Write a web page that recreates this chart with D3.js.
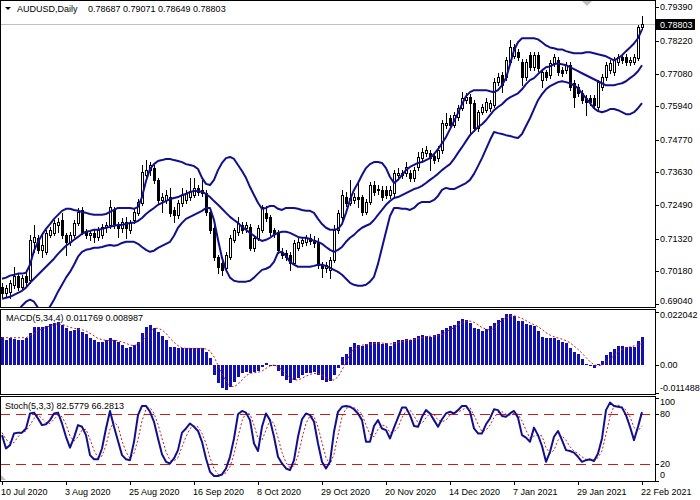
<!DOCTYPE html>
<html><head><meta charset="utf-8">
<script src="https://cdn.jsdelivr.net/npm/d3@7"></script>
<style>
html,body{margin:0;padding:0;background:#fff;}
svg{display:block;font-family:"Liberation Sans",Arial,sans-serif;}
</style></head><body>
<svg id="c" width="700" height="500"></svg>
<script>
const symbolTitle = "AUDUSD,Daily";
const titleValues = "0.78687 0.79071 0.78649 0.78803";
const macdTitle = "MACD(5,34,4) 0.011769 0.008987";
const stochTitle = "Stoch(5,3,3) 82.5779 66.2813";
const dateLabels = ["10 Jul 2020","3 Aug 2020","25 Aug 2020","16 Sep 2020","8 Oct 2020","29 Oct 2020","20 Nov 2020","14 Dec 2020","7 Jan 2021","29 Jan 2021","22 Feb 2021"];
const dateTickIndex = [0,16,32,48,64,80,96,112,128,144,160];
const priceTicks = [0.79390,0.78220,0.77080,0.75940,0.74770,0.73630,0.72490,0.71320,0.70180,0.69040];
const macdTicks = [0.022042,0,-0.011488];
const macdTickLabels = ["0.022042","0.00","-0.011488"];
const stochTicks = [100,80,20,0];
const stochLevels = [80,20];

const open = [.6964,.6943,.6947,.6971,.7003,.6964,.7003,.6989,.7121,.7135,
.7093,.7086,.7145,.7152,.7180,.7197,.7145,.7121,.7145,.7187,
.7232,.7156,.7145,.7152,.7138,.7145,.7173,.7180,.7232,.7180,
.7170,.7190,.7163,.7197,.7222,.7257,.7354,.7371,.7378,.7337,
.7267,.7267,.7277,.7232,.7215,.7257,.7267,.7277,.7284,.7309,
.7291,.7291,.7225,.7170,.7069,.7048,.7030,.7069,.7128,.7156,
.7180,.7170,.7173,.7100,.7135,.7163,.7222,.7208,.7163,.7156,
.7086,.7083,.7076,.7048,.7100,.7117,.7121,.7135,.7128,.7121,
.7041,.7030,.7023,.7058,.7163,.7208,.7277,.7257,.7267,.7277,
.7277,.7225,.7260,.7319,.7305,.7302,.7302,.7284,.7291,.7354,
.7354,.7361,.7361,.7344,.7382,.7413,.7431,.7431,.7420,.7413,
.7441,.7528,.7552,.7528,.7556,.7587,.7615,.7625,.7605,.7518,
.7573,.7580,.7587,.7598,.7678,.7702,.7695,.7747,.7768,.7782,
.7747,.7695,.7772,.7730,.7772,.7685,.7712,.7702,.7744,.7754,
.7719,.7719,.7737,.7674,.7660,.7639,.7622,.7622,.7622,.7591,
.7660,.7695,.7719,.7712,.7747,.7765,.7765,.7747,.7747,.7761,
.78687];
const high = [.6978,.6971,.6989,.7034,.7013,.7006,.7013,.7145,.7180,.7145,
.7152,.7163,.7173,.7197,.7204,.7222,.7152,.7156,.7197,.7239,
.7243,.7166,.7163,.7163,.7173,.7183,.7190,.7267,.7243,.7190,
.7204,.7208,.7197,.7236,.7270,.7389,.7406,.7399,.7389,.7344,
.7291,.7302,.7309,.7243,.7267,.7309,.7302,.7344,.7344,.7319,
.7337,.7302,.7232,.7177,.7076,.7058,.7086,.7145,.7170,.7208,
.7190,.7190,.7183,.7142,.7180,.7250,.7246,.7215,.7170,.7163,
.7100,.7093,.7086,.7128,.7135,.7138,.7145,.7149,.7142,.7135,
.7051,.7051,.7069,.7180,.7232,.7302,.7295,.7337,.7291,.7326,
.7284,.7270,.7330,.7333,.7319,.7316,.7316,.7316,.7371,.7378,
.7371,.7399,.7371,.7382,.7434,.7448,.7455,.7441,.7431,.7455,
.7545,.7570,.7563,.7573,.7598,.7643,.7639,.7636,.7615,.7580,
.7601,.7622,.7615,.7692,.7709,.7712,.7765,.7824,.7810,.7792,
.7758,.7758,.7782,.7782,.7782,.7719,.7719,.7754,.7775,.7765,
.7730,.7747,.7747,.7685,.7671,.7650,.7632,.7632,.7632,.7685,
.7706,.7747,.7754,.7765,.7775,.7775,.7775,.7765,.7775,.7876,
.79071];
const low = [.6929,.6933,.6926,.6961,.6954,.6954,.6971,.6978,.7086,.7083,
.7069,.7079,.7138,.7145,.7156,.7135,.7076,.7110,.7138,.7180,
.7149,.7135,.7128,.7121,.7128,.7135,.7156,.7170,.7170,.7138,
.7156,.7135,.7152,.7187,.7215,.7250,.7344,.7354,.7326,.7257,
.7225,.7257,.7211,.7190,.7204,.7246,.7257,.7267,.7277,.7284,
.7281,.7215,.7152,.7058,.7013,.7006,.7020,.7062,.7121,.7145,
.7152,.7156,.7093,.7090,.7128,.7156,.7194,.7145,.7138,.7083,
.7065,.7058,.7023,.7041,.7093,.7107,.7110,.7114,.7103,.7030,
.6999,.7016,.6996,.7051,.7152,.7197,.7246,.7250,.7257,.7243,
.7215,.7218,.7253,.7284,.7288,.7267,.7274,.7274,.7281,.7344,
.7344,.7351,.7333,.7333,.7371,.7403,.7420,.7371,.7396,.7403,
.7431,.7518,.7518,.7521,.7545,.7580,.7605,.7493,.7507,.7507,
.7566,.7573,.7577,.7591,.7667,.7643,.7685,.7740,.7761,.7754,
.7667,.7685,.7719,.7719,.7716,.7660,.7685,.7692,.7733,.7702,
.7699,.7709,.7650,.7591,.7629,.7605,.7563,.7598,.7587,.7580,
.7650,.7685,.7709,.7702,.7737,.7744,.7737,.7737,.7740,.7754,
.78649];
const close = [.6943,.6961,.6978,.7003,.6964,.6996,.6982,.7128,.7138,.7093,
.7110,.7152,.7163,.7187,.7190,.7145,.7121,.7145,.7187,.7225,
.7156,.7145,.7152,.7138,.7163,.7173,.7180,.7243,.7180,.7170,
.7190,.7170,.7187,.7225,.7260,.7364,.7371,.7389,.7337,.7267,
.7277,.7284,.7222,.7215,.7257,.7284,.7291,.7295,.7309,.7295,
.7302,.7225,.7163,.7069,.7034,.7023,.7076,.7135,.7163,.7187,
.7163,.7180,.7100,.7135,.7170,.7243,.7204,.7156,.7152,.7093,
.7076,.7069,.7048,.7117,.7121,.7128,.7135,.7124,.7117,.7041,
.7030,.7041,.7058,.7163,.7222,.7284,.7257,.7274,.7277,.7270,
.7225,.7260,.7319,.7295,.7302,.7277,.7284,.7302,.7361,.7361,
.7361,.7382,.7344,.7371,.7417,.7434,.7441,.7413,.7406,.7441,
.7535,.7535,.7528,.7563,.7587,.7622,.7625,.7605,.7518,.7573,
.7591,.7608,.7605,.7678,.7695,.7667,.7754,.7799,.7799,.7765,
.7695,.7747,.7730,.7772,.7726,.7712,.7695,.7744,.7765,.7712,
.7709,.7737,.7660,.7625,.7639,.7615,.7608,.7608,.7598,.7678,
.7695,.7737,.7744,.7754,.7765,.7754,.7747,.7754,.7765,.7869,
.78803];

const bbUpper = [.6992,.6996,.7003,.7006,.7010,.7010,.7013,.7041,.7090,.7121,
.7145,.7166,.7183,.7201,.7215,.7229,.7236,.7236,.7232,.7229,
.7225,.7222,.7218,.7215,.7215,.7215,.7218,.7225,.7232,.7239,
.7239,.7239,.7239,.7236,.7243,.7277,.7333,.7375,.7392,.7403,
.7406,.7410,.7410,.7406,.7403,.7399,.7392,.7389,.7385,.7375,
.7344,.7323,.7319,.7337,.7371,.7396,.7413,.7417,.7410,.7389,
.7368,.7344,.7312,.7284,.7257,.7236,.7239,.7246,.7246,.7236,
.7232,.7239,.7239,.7239,.7236,.7232,.7229,.7229,.7222,.7201,
.7183,.7170,.7163,.7163,.7166,.7183,.7222,.7267,.7302,.7326,
.7354,.7378,.7392,.7399,.7399,.7396,.7378,.7347,.7326,.7337,
.7354,.7371,.7382,.7389,.7396,.7399,.7406,.7413,.7427,.7444,
.7465,.7486,.7514,.7542,.7570,.7601,.7629,.7643,.7650,.7650,
.7650,.7650,.7646,.7643,.7650,.7667,.7692,.7740,.7789,.7817,
.7831,.7831,.7831,.7831,.7827,.7817,.7806,.7799,.7796,.7792,
.7792,.7786,.7782,.7779,.7779,.7779,.7782,.7782,.7779,.7775,
.7772,.7768,.7761,.7754,.7761,.7772,.7786,.7799,.7813,.7831,
.7862];
const bbMiddle = [.6922,.6926,.6929,.6936,.6943,.6950,.6961,.6978,.6992,.7006,
.7020,.7034,.7048,.7062,.7079,.7093,.7107,.7117,.7128,.7138,
.7149,.7156,.7159,.7163,.7163,.7166,.7170,.7173,.7177,.7180,
.7180,.7183,.7187,.7187,.7194,.7204,.7218,.7229,.7239,.7250,
.7257,.7263,.7270,.7274,.7277,.7284,.7288,.7295,.7298,.7298,
.7295,.7288,.7277,.7263,.7250,.7236,.7222,.7208,.7197,.7187,
.7173,.7163,.7152,.7142,.7131,.7124,.7128,.7135,.7145,.7152,
.7156,.7156,.7152,.7145,.7138,.7135,.7135,.7131,.7124,.7121,
.7114,.7103,.7093,.7086,.7093,.7103,.7121,.7135,.7145,.7159,
.7170,.7177,.7183,.7197,.7215,.7232,.7250,.7263,.7274,.7277,
.7284,.7291,.7298,.7305,.7309,.7316,.7326,.7337,.7347,.7358,
.7371,.7382,.7392,.7410,.7431,.7451,.7472,.7493,.7507,.7521,
.7531,.7545,.7563,.7580,.7591,.7601,.7615,.7625,.7632,.7639,
.7653,.7671,.7685,.7692,.7706,.7719,.7730,.7733,.7740,.7744,
.7740,.7737,.7730,.7723,.7716,.7709,.7702,.7695,.7688,.7681,
.7674,.7667,.7667,.7667,.7671,.7674,.7681,.7692,.7702,.7716,
.7737];
const bbLower = [.6815,.6828,.6846,.6863,.6881,.6898,.6912,.6919,.6912,.6891,
.6870,.6877,.6895,.6919,.6947,.6971,.6996,.7016,.7041,.7069,
.7086,.7093,.7096,.7100,.7100,.7103,.7107,.7110,.7107,.7110,
.7117,.7121,.7121,.7121,.7114,.7103,.7093,.7086,.7090,.7100,
.7107,.7114,.7121,.7142,.7170,.7187,.7201,.7208,.7215,.7222,
.7229,.7239,.7239,.7197,.7128,.7065,.7023,.6996,.6985,.6982,
.6982,.6982,.6985,.6996,.7010,.7023,.7027,.7034,.7051,.7083,
.7086,.7072,.7051,.7041,.7034,.7034,.7034,.7034,.7037,.7041,
.7041,.7037,.7030,.7023,.7016,.7006,.6992,.6978,.6971,.6968,
.6968,.6971,.6982,.6999,.7044,.7100,.7156,.7211,.7239,.7239,
.7236,.7236,.7232,.7239,.7253,.7260,.7260,.7260,.7267,.7281,
.7302,.7309,.7305,.7305,.7312,.7319,.7326,.7337,.7358,.7385,
.7413,.7444,.7476,.7504,.7500,.7497,.7493,.7490,.7486,.7483,
.7497,.7525,.7552,.7584,.7615,.7636,.7653,.7664,.7671,.7678,
.7681,.7678,.7674,.7667,.7657,.7639,.7622,.7605,.7587,.7577,
.7573,.7577,.7584,.7584,.7580,.7573,.7566,.7566,.7573,.7587,
.7605];

const macdMain = [.01155,.01043,.01114,.01085,.01043,.01056,.01139,.01321,.01594,.01569,
.01569,.01635,.01693,.01735,.01776,.01664,.01528,.01416,.01457,.01528,
.01387,.01279,.01139,.01043,.00973,.00973,.01043,.01114,.01043,.00973,
.00836,.00725,.00766,.00836,.00973,.01321,.01594,.01664,.01528,.01387,
.01221,.01043,.00766,.00766,.00700,.00700,.00700,.00700,.00700,.00725,
.00700,.00559,.00286,-.00406,-.00749,-.00956,-.01027,-.00890,-.00683,-.00476,
-.00335,-.00269,-.00335,-.00269,-.00240,-.00062,.00079,.00008,-.00033,-.00240,
-.00435,-.00613,-.00725,-.00613,-.00542,-.00406,-.00335,-.00335,-.00269,-.00406,
-.00613,-.00683,-.00654,-.00406,-.00104,.00352,.00451,.00766,.00907,.00836,
.00807,.00865,.00948,.00948,.00948,.00865,.00907,.00807,.00948,.01043,
.01043,.01085,.01043,.01114,.01221,.01250,.01209,.01180,.01250,.01279,
.01457,.01553,.01635,.01664,.01830,.01913,.01871,.01735,.01553,.01499,
.01416,.01499,.01635,.01735,.01871,.01942,.02107,.02107,.02049,.01830,
.01830,.01693,.01664,.01635,.01416,.01180,.01114,.01114,.01139,.01043,
.00973,.00907,.00700,.00559,.00451,.00257,.00062,-.00033,-.00128,.00037,
.00174,.00422,.00559,.00671,.00807,.00807,.00766,.00766,.00766,.01002,
.011769];
const macdSignal = [.0114,.0114,.0114,.0114,.0114,.0114,.0114,.0122,.0132,.0142,
.0150,.0157,.0162,.0169,.0171,.0169,.0164,.0157,.0153,.0150,
.0147,.0142,.0132,.0122,.0111,.0106,.0103,.0103,.0103,.0101,
.0097,.0091,.0084,.0081,.0087,.0100,.0118,.0139,.0153,.0153,
.0146,.0132,.0111,.0095,.0081,.0072,.0070,.0070,.0070,.0070,
.0070,.0067,.0059,.0035,.0001,-.0034,-.0065,-.0085,-.0089,-.0079,
-.0061,-.0043,-.0034,-.0031,-.0029,-.0024,-.0013,-.0003,.0001,-.0006,
-.0020,-.0036,-.0052,-.0060,-.0061,-.0054,-.0045,-.0038,-.0034,-.0034,
-.0041,-.0052,-.0061,-.0061,-.0048,-.0020,.0012,.0045,.0068,.0078,
.0083,.0085,.0086,.0090,.0092,.0092,.0090,.0088,.0090,.0094,
.0098,.0102,.0104,.0106,.0110,.0114,.0118,.0120,.0121,.0122,
.0128,.0138,.0148,.0155,.0165,.0175,.0182,.0183,.0178,.0167,
.0156,.0150,.0145,.0152,.0168,.0188,.0195,.0203,.0205,.0200,
.0194,.0185,.0175,.0168,.0160,.0148,.0135,.0125,.0118,.0113,
.0108,.0102,.0093,.0080,.0066,.0050,.0032,.0015,.0002,-.0002,
.0000,.0012,.0025,.0040,.0055,.0066,.0072,.0076,.0080,.0085,
.008987];

const stochMain = [55,39,43,57,58,58,63,81,82,75,
67,68,73,81,82,69,53,40,52,67,
65,55,31,26,26,39,63,84,65,48,
31,26,25,47,79,90,90,83,71,51,
32,23,21,27,37,58,63,69,65,60,
47,27,11,6,6,8,15,29,51,80,
84,82,73,45,36,65,81,73,53,29,
21,15,13,25,53,74,81,79,71,45,
23,15,23,59,83,89,90,89,86,81,
73,47,47,66,73,63,61,51,64,76,
88,88,79,66,65,77,85,81,73,65,
74,81,83,81,85,90,90,83,63,57,
57,68,75,86,85,78,77,81,84,76,
55,52,47,64,55,42,23,35,53,60,
49,37,36,34,29,23,25,26,24,33,
51,85,94,90,89,88,79,65,49,65,
82.5779];
const stochSignal = [58,50,46,46,53,58,60,67,75,79,
75,70,69,74,79,77,68,54,48,53,
61,62,50,37,28,30,43,62,71,66,
48,35,27,33,50,72,86,88,81,68,
51,35,25,24,28,41,53,63,66,65,
57,45,28,15,8,7,10,17,32,53,
72,82,80,67,51,49,61,73,69,52,
34,22,16,18,30,51,69,78,77,65,
46,28,20,32,55,77,87,89,88,85,
80,67,56,53,62,67,66,58,59,64,
76,84,85,78,70,69,76,81,80,73,
71,73,79,82,83,85,88,88,79,68,
59,61,67,76,82,83,80,79,81,80,
72,61,51,54,55,54,40,33,37,49,
54,49,41,36,33,29,26,25,25,28,
36,56,77,90,91,89,85,77,64,60,
66.2813];

// ---------- drawing ----------
const bandColor = "#10108c", histColor = "#1010b4", redColor = "#c41e1e";
const svg = d3.select("#c");
const n = close.length;
const idx = d3.range(n);
const x = d3.scaleLinear().domain([0, n - 1]).range([2, 642]);
const yMain = d3.scaleLinear().domain([0.69040, 0.79390]).range([304, 7.3]);
const yMacd = d3.scaleLinear().domain([-0.011488, 0.022042]).range([393, 312]);
const yStoch = d3.scaleLinear().domain([0, 100]).range([481, 397.6]);
const AX = 655;

const panels = {main:[0,307], macd:[309,394], stoch:[396,481]};
const defs = svg.append("defs");
Object.entries(panels).forEach(([k,[a,b]]) => {
  defs.append("clipPath").attr("id","clip-"+k).append("rect")
    .attr("x",1).attr("y",a+1).attr("width",AX-1).attr("height",b-a-1);
});

svg.append("rect").attr("width",700).attr("height",500).attr("fill","#fff");

// ---- main panel ----
const gm = svg.append("g").attr("clip-path","url(#clip-main)");
const Y = v => Math.round(yMain(v));
gm.append("line").attr("x1",0).attr("x2",AX).attr("y1",Y(close[n-1])+0.5).attr("y2",Y(close[n-1])+0.5)
  .attr("stroke","#c0c0c0").attr("stroke-width",1);

idx.forEach(i => {
  const cx = Math.round(x(i));
  gm.append("line").attr("x1",cx+0.5).attr("x2",cx+0.5).attr("y1",Y(high[i])).attr("y2",Y(low[i])+1)
    .attr("stroke","#000").attr("stroke-width",1).attr("shape-rendering","crispEdges");
  if (close[i] >= open[i]) {
    const t = Y(close[i]), b = Y(open[i]);
    gm.append("rect").attr("x",cx-0.5).attr("y",t+0.5).attr("width",2).attr("height",Math.max(b-t,0))
      .attr("fill","#fff").attr("stroke","#000").attr("stroke-width",1).attr("shape-rendering","crispEdges");
  } else {
    const t = Y(open[i]), b = Y(close[i]);
    gm.append("rect").attr("x",cx-1).attr("y",t).attr("width",3).attr("height",Math.max(b-t+1,1))
      .attr("fill","#000").attr("shape-rendering","crispEdges");
  }
});

const lineGen = ys => d3.line().x((d,i)=>x(i)).y(d=>ys(d));
[bbUpper, bbMiddle, bbLower].forEach(a => {
  gm.append("path").attr("d", lineGen(yMain)(a)).attr("fill","none")
    .attr("stroke",bandColor).attr("stroke-width",2).attr("stroke-linejoin","round");
});

// ---- MACD panel ----
const gd = svg.append("g").attr("clip-path","url(#clip-macd)");
const z0 = Math.round(yMacd(0));
idx.forEach(i => {
  const cx = Math.round(x(i));
  const yv = Math.round(yMacd(macdMain[i]));
  const t = Math.min(yv, z0), b = Math.max(yv, z0);
  gd.append("rect").attr("x",cx-1).attr("y",t).attr("width",3).attr("height",Math.max(b-t,1))
    .attr("fill",histColor).attr("shape-rendering","crispEdges");
});
gd.append("path").attr("d", lineGen(yMacd)(macdSignal)).attr("fill","none")
  .attr("stroke",redColor).attr("stroke-width",1).attr("stroke-dasharray","2,2");

// ---- Stoch panel ----
const gs = svg.append("g").attr("clip-path","url(#clip-stoch)");
stochLevels.forEach(v => {
  gs.append("line").attr("x1",0).attr("x2",AX).attr("y1",Math.round(yStoch(v))+0.5).attr("y2",Math.round(yStoch(v))+0.5)
    .attr("stroke",redColor).attr("stroke-width",1).attr("stroke-dasharray","10,6");
});
gs.append("path").attr("d", lineGen(yStoch)(stochSignal)).attr("fill","none")
  .attr("stroke",redColor).attr("stroke-width",1).attr("stroke-dasharray","2,2");
gs.append("path").attr("d", lineGen(yStoch)(stochMain)).attr("fill","none")
  .attr("stroke",bandColor).attr("stroke-width",2).attr("stroke-linejoin","round");

// ---- frames ----
Object.values(panels).forEach(([a,b]) => {
  svg.append("rect").attr("x",0.5).attr("y",a+0.5).attr("width",AX).attr("height",b-a)
    .attr("fill","none").attr("stroke","#000").attr("stroke-width",1).attr("shape-rendering","crispEdges");
});

// ---- right axes ----
const font = 9;
function rightAxis(vals, labels, scale, top, bottom) {
  vals.forEach((v,k) => {
    const yy = Math.round(scale(v));
    svg.append("line").attr("x1",AX).attr("x2",AX+4).attr("y1",yy+0.5).attr("y2",yy+0.5)
      .attr("stroke","#000").attr("shape-rendering","crispEdges");
    const ty = Math.min(Math.max(yy, top+6), bottom-6);
    svg.append("text").attr("x",AX+5).attr("y",ty).attr("dy","0.35em")
      .attr("font-size",font).attr("fill","#000").text(labels[k]);
  });
}
rightAxis(priceTicks, priceTicks.map(d=>d.toFixed(5)), yMain, 0, 307);
rightAxis(macdTicks, macdTickLabels, yMacd, 309, 394);
rightAxis(stochTicks, stochTicks.map(String), yStoch, 396, 481);

// current price box
const cy = yMain(close[n-1]);
svg.append("rect").attr("x",AX+1).attr("y",Math.round(cy)-5).attr("width",39).attr("height",11).attr("fill","#000");
svg.append("text").attr("x",AX+5).attr("y",Math.round(cy)+0.5).attr("dy","0.35em")
  .attr("font-size",font).attr("fill","#fff").text(close[n-1].toFixed(5));

// ---- date axis ----
dateTickIndex.forEach((d,k) => {
  const xx = Math.round(x(d));
  svg.append("line").attr("x1",xx+0.5).attr("x2",xx+0.5).attr("y1",481).attr("y2",485)
    .attr("stroke","#000").attr("shape-rendering","crispEdges");
  svg.append("text").attr("x",xx-1).attr("y",495).attr("font-size",font).attr("fill","#000").text(dateLabels[k]);
});

// ---- titles ----
svg.append("path").attr("d","M5,7 L11,7 L8,10 Z").attr("fill","#000");
svg.append("text").attr("x",17).attr("y",9).attr("dy","0.35em").attr("font-size",font).text(symbolTitle);
svg.append("text").attr("x",88).attr("y",9).attr("dy","0.35em").attr("font-size",font).text(titleValues);
svg.append("text").attr("x",6).attr("y",318).attr("dy","0.35em").attr("font-size",font).text(macdTitle);
svg.append("text").attr("x",5).attr("y",406).attr("dy","0.35em").attr("font-size",font).text(stochTitle);

// shift markers
svg.append("path").attr("d","M582,1 L592,1 L587,6 Z").attr("fill","#c0c0c0");
svg.append("path").attr("d","M1,475 L1,480 L6,480 Z").attr("fill","#c0c0c0");
</script>
</body></html>
